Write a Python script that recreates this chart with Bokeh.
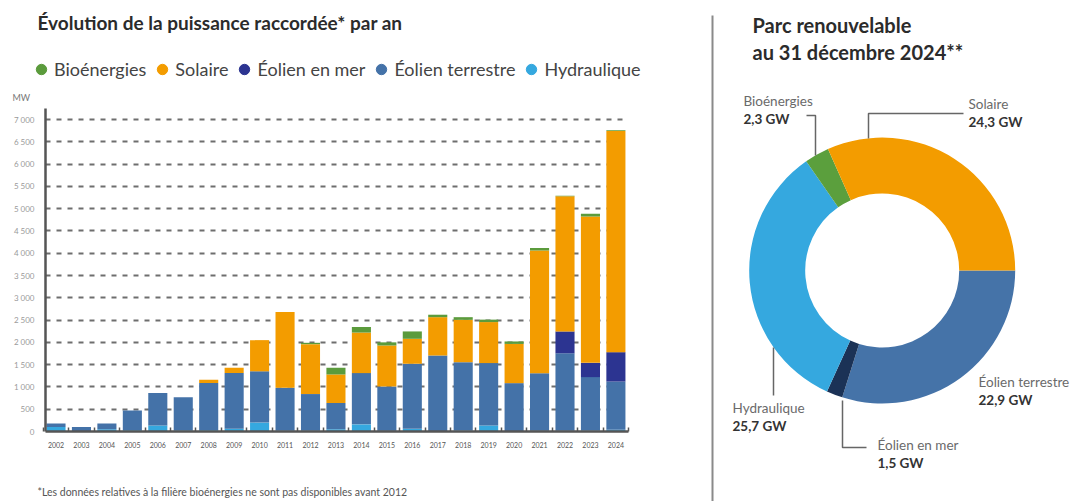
import math
from bokeh.plotting import figure
from bokeh.models import (Range1d, FixedTicker, Label, Legend, LegendItem,
                          ColumnDataSource)
from bokeh.layouts import row
from bokeh.embed import file_html
from bokeh.resources import INLINE
from bokeh.core.properties import value

# ---------------- data: annual connected capacity (MW) ----------------
years = list(range(2002, 2025))
hydraulique = [100, 10, 50, 30, 135, 20, 30, 60, 200, 20, 20, 50, 160, 15, 60,
               10, 20, 135, 10, 15, 15, 20, 40]
eolien_terrestre = [80, 90, 130, 440, 730, 750, 1060, 1250, 1150, 960, 820, 590,
                    1150, 995, 1460, 1695, 1535, 1400, 1075, 1290, 1740, 1200, 1080]
eolien_mer = [0] * 20 + [490, 320, 660]
solaire = [0] * 6 + [70, 120, 700, 1700, 1120, 640, 910, 920, 560, 860, 950, 920,
                     880, 2755, 3035, 3285, 4960]
bioenergies = [0] * 10 + [30, 150, 125, 70, 165, 55, 60, 55, 55, 55, 10, 60, 20]

series_keys = ["hydraulique", "terrestre", "mer", "solaire", "bio"]
series_colors = ["#35a8df", "#4472a8", "#2c3491", "#f39c00", "#5b9b3c"]
legend_names = ["Bioénergies", "Solaire", "Éolien en mer", "Éolien terrestre", "Hydraulique"]
legend_colors = ["#5b9b3c", "#f39c00", "#2c3491", "#4472a8", "#35a8df"]

ytick_values = list(range(0, 7001, 500))
ytick_labels = ["0" if v == 0 else f"{v // 1000} {v % 1000:03d}" if v >= 1000 else str(v)
                for v in ytick_values]

# ---------------- data: renewable fleet at 31/12/2024 (GW) ----------------
parc_names = ["Éolien terrestre", "Éolien en mer", "Hydraulique", "Bioénergies", "Solaire"]
parc_gw = [22.9, 1.5, 25.7, 2.3, 24.3]
parc_text = ["22,9 GW", "1,5 GW", "25,7 GW", "2,3 GW", "24,3 GW"]
parc_colors = ["#4573a8", "#1b3256", "#35a8df", "#5b9f3d", "#f39c00"]

FONT = "Lato"
H = 501
W1, W2 = 690, 387

# ---- layout calibration for the bar panel (pixels) ----
PX_X0, PX_STEP = 55.5, 25.45          # first bar centre, bar pitch
PX_BASE, PX_PER_MW = 431.0, 312.0 / 7000.0
AX_LEFT, AX_RIGHT, AX_TOP = 45, 628, 108


def xdata(px):
    return years[0] + (px - PX_X0) / PX_STEP


def ydata(py):
    return (PX_BASE - py) / PX_PER_MW


# ======================= bar chart =======================
src = ColumnDataSource(dict(year=years, hydraulique=hydraulique, terrestre=eolien_terrestre,
                            mer=eolien_mer, solaire=solaire, bio=bioenergies))

p = figure(width=W1, height=H, x_range=Range1d(xdata(0), xdata(W1)),
           y_range=Range1d(ydata(H), ydata(0)), output_backend="svg",
           toolbar_location=None, min_border=0, min_border_left=0, min_border_right=0,
           min_border_top=0, min_border_bottom=0)
p.outline_line_color = None
p.background_fill_color = "white"

p.xgrid.visible = False
g = p.ygrid[0]
g.ticker = FixedTicker(ticks=ytick_values[1:])
g.grid_line_color = "#6e6e6e"
g.grid_line_width = 2
g.grid_line_dash = "5 6"
try:
    g.cross_bounds = (xdata(AX_LEFT), xdata(AX_RIGHT))
except AttributeError:
    g.visible = False
    p.segment(x0=xdata(AX_LEFT), x1=xdata(AX_RIGHT), y0=ytick_values[1:], y1=ytick_values[1:],
              line_color="#6e6e6e", line_width=2, line_dash="5 6", level="underlay")

p.vbar_stack(series_keys, x="year", width=0.75, color=series_colors, source=src,
             line_color=None)

yax = p.yaxis[0]
yax.fixed_location = xdata(AX_LEFT)
yax.bounds = (0, ydata(AX_TOP))
yax.ticker = FixedTicker(ticks=ytick_values)
yax.major_label_overrides = {v: s for v, s in zip(ytick_values, ytick_labels)}
yax.axis_line_color = "#555555"
yax.axis_line_width = 2.5
yax.major_tick_in = 0
yax.major_tick_out = 0
yax.minor_tick_in = 0
yax.minor_tick_out = 0
yax.major_label_text_font = FONT
yax.major_label_text_font_size = "8px"
yax.major_label_text_color = "#9a9a9a"
yax.major_label_standoff = 11

xax = p.xaxis[0]
xax.fixed_location = 0
xax.bounds = (xdata(AX_LEFT), xdata(AX_RIGHT))
xax.ticker = FixedTicker(ticks=years, minor_ticks=[y - 0.5 for y in years] + [years[-1] + 0.5])
xax.major_label_overrides = {y: str(y) for y in years}
xax.axis_line_color = "#555555"
xax.axis_line_width = 2.5
xax.major_tick_in = 0
xax.major_tick_out = 0
xax.minor_tick_in = 4
xax.minor_tick_out = 0
xax.minor_tick_line_color = "#555555"
xax.minor_tick_line_width = 1.5
xax.major_label_text_font = FONT
xax.major_label_text_font_size = "7px"
xax.major_label_text_color = "#555555"
xax.major_label_standoff = 10

# titles / notes (screen units: x from left, y from bottom of the frame)
p.add_layout(Label(x=37, y=H - 22, x_units="screen", y_units="screen",
                   text="Évolution de la puissance raccordée* par an",
                   text_font=FONT, text_font_style="bold", text_font_size="19px",
                   text_color="#2b2b2b", text_baseline="middle"))
p.add_layout(Label(x=12, y=H - 97, x_units="screen", y_units="screen", text="MW",
                   text_font=FONT, text_font_size="9px", text_color="#777777",
                   text_baseline="middle"))
p.add_layout(Label(x=37, y=H - 491, x_units="screen", y_units="screen",
                   text="*Les données relatives à la filière bioénergies ne sont pas disponibles avant 2012",
                   text_font=FONT, text_font_size="10.5px", text_color="#555555",
                   text_baseline="middle"))

nan = float("nan")
dummies = [p.scatter(x=[nan], y=[nan], marker="circle", color=c, size=10)
           for c in legend_colors]
legend = Legend(items=[LegendItem(label=n, renderers=[r]) for n, r in zip(legend_names, dummies)],
                orientation="horizontal", location=(28, H - 82), border_line_color=None,
                background_fill_alpha=0, padding=0, margin=0, spacing=3,
                glyph_width=26, glyph_height=26, label_standoff=-5,
                label_text_font=FONT, label_text_font_size="18px",
                label_text_color="#444444", label_height=26)
p.add_layout(legend)

# ======================= donut chart =======================
q = figure(width=W2, height=H, x_range=Range1d(0, W2), y_range=Range1d(0, H),
           output_backend="svg", toolbar_location=None, x_axis_location=None,
           y_axis_location=None, min_border=0)
q.grid.visible = False
q.outline_line_color = None
X0 = W1  # page x of this panel


def qx(px):
    return px - X0


def qy(py):
    return H - py


cx, cy, r_out, r_in = qx(881.7), qy(270), 133, 77
total = sum(parc_gw)
starts, ends, acc = [], [], 0.0
for v in parc_gw:
    starts.append(-2 * math.pi * acc / total)
    acc += v
    ends.append(-2 * math.pi * acc / total)
dsrc = ColumnDataSource(dict(start=starts, end=ends, color=parc_colors, name=parc_names))
q.annular_wedge(x=cx, y=cy, inner_radius=r_in, outer_radius=r_out, start_angle="start",
                end_angle="end", direction="clock", color="color", line_color=None,
                source=dsrc)

# separator
q.segment(x0=qx(712), y0=qy(15), x1=qx(712), y1=qy(H), line_color="#8a8a8a", line_width=2)

# title
q.text(x=[qx(752)] * 2, y=[qy(24), qy(51)], text=["Parc renouvelable", "au 31 décembre 2024**"],
       text_font=value(FONT), text_font_style="bold", text_font_size="20px",
       text_color="#2b2b2b", text_baseline="middle")

# labels: name (grey) + value (bold)
lab_pos = {"Éolien terrestre": (978, 381), "Éolien en mer": (877, 444),
           "Hydraulique": (732, 407), "Bioénergies": (743, 100), "Solaire": (968, 103)}
lx = [qx(lab_pos[n][0]) for n in parc_names]
ly = [qy(lab_pos[n][1]) for n in parc_names]
q.text(x=lx, y=ly, text=parc_names, text_font=value(FONT), text_font_size="13.5px",
       text_color="#6a6a6a", text_baseline="middle")
q.text(x=lx, y=[v - 18 for v in ly], text=parc_text, text_font=value(FONT),
       text_font_style="bold", text_font_size="13.5px", text_color="#333333",
       text_baseline="middle")

# leader lines (page pixel polylines)
leaders = [[(806, 115), (815, 115), (815, 155)],
           [(963, 113), (868, 113), (868, 138)],
           [(773, 347), (773, 395)],
           [(842, 400), (842, 447), (866, 447)]]
q.multi_line(xs=[[qx(a) for a, b in L] for L in leaders],
             ys=[[qy(b) for a, b in L] for L in leaders],
             line_color="#666666", line_width=1.5)

layout = row(p, q)
open("out.html", "w").write(file_html(layout, INLINE))
